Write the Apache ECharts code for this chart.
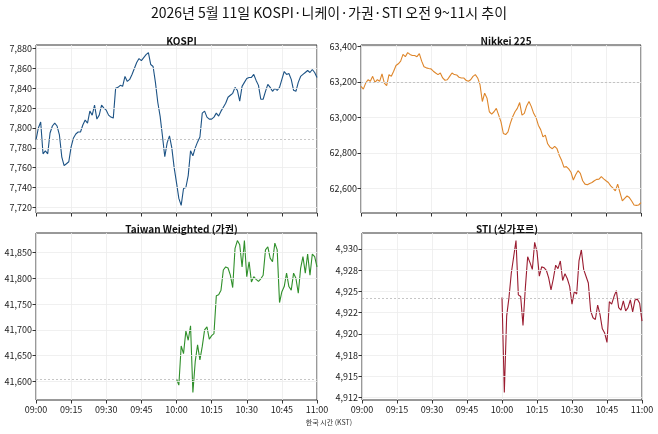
<!DOCTYPE html>
<html>
<head>
<meta charset="utf-8">
<script src="https://cdn.jsdelivr.net/npm/echarts@6/dist/echarts.min.js"></script>
<style>
  html, body { margin: 0; padding: 0; background: #fff; }
  #chart { width: 658px; height: 434px; }
</style>
</head>
<body>
<div id="chart"></div>
<script>
// minutes after 09:00 KST, one point a minute
var timeLabels = ['09:00', '09:15', '09:30', '09:45', '10:00', '10:15', '10:30', '10:45', '11:00'];

var kospi = [7788, 7800, 7806, 7774, 7777, 7774, 7795, 7802, 7805, 7802,
    7793, 7771, 7762, 7764, 7766, 7781, 7790, 7794, 7796, 7796,
    7803, 7808, 7805, 7817, 7813, 7823, 7809, 7813, 7823, 7820,
    7818, 7813, 7811, 7810, 7840, 7841, 7843, 7842, 7852, 7847,
    7849, 7854, 7860, 7866, 7870, 7868, 7871, 7874, 7876, 7864,
    7862, 7846, 7826, 7812, 7792, 7771, 7785, 7792, 7780, 7760,
    7745, 7729, 7722, 7739, 7740, 7752, 7777, 7772, 7780, 7786,
    7791, 7815, 7817, 7811, 7809, 7809, 7811, 7815, 7812, 7817,
    7821, 7825, 7831, 7833, 7835, 7841, 7838, 7827, 7842, 7846,
    7850, 7851, 7851, 7854, 7848, 7843, 7829, 7829, 7837, 7844,
    7841, 7837, 7840, 7838, 7841, 7849, 7857, 7854, 7855, 7849,
    7838, 7837, 7846, 7852, 7854, 7856, 7858, 7856, 7859, 7856,
    7851];
var kospiRef = 7789;
var kospiTicks = [7720, 7740, 7760, 7780, 7800, 7820, 7840, 7860, 7880];
var kospiLabels = ['7,720', '7,740', '7,760', '7,780', '7,800', '7,820', '7,840', '7,860', '7,880'];

var nikkei = [63175, 63160, 63194, 63213, 63204, 63232, 63198, 63213, 63204, 63246,
    63194, 63179, 63242, 63232, 63261, 63293, 63303, 63318, 63356, 63343,
    63366, 63356, 63350, 63350, 63343, 63360, 63318, 63286, 63280, 63276,
    63274, 63261, 63251, 63242, 63251, 63223, 63210, 63213, 63232, 63251,
    63242, 63240, 63227, 63223, 63223, 63210, 63204, 63213, 63232, 63242,
    63223, 63185, 63090, 63137, 63109, 63032, 63019, 63032, 63051, 63013,
    62975, 62909, 62903, 62918, 62966, 63004, 63032, 63051, 63084, 63013,
    63023, 63065, 63090, 63061, 63023, 63000, 62956, 62931, 62890, 62900,
    62851, 62832, 62823, 62836, 62823, 62785, 62756, 62718, 62722, 62709,
    62690, 62646, 62676, 62699, 62684, 62642, 62623, 62619, 62627, 62632,
    62642, 62650, 62651, 62665, 62653, 62642, 62632, 62613, 62600, 62585,
    62623, 62575, 62528, 62543, 62556, 62547, 62528, 62505, 62503, 62505,
    62518];
var nikkeiRef = 63200;
var nikkeiTicks = [62600, 62800, 63000, 63200, 63400];
var nikkeiLabels = ['62,600', '62,800', '63,000', '63,200', '63,400'];

// Taiwan and STI open at 10:00 KST
var taiwan = [41605, 41593, 41669, 41654, 41698, 41680, 41708, 41579, 41639, 41671,
    41642, 41668, 41700, 41706, 41682, 41689, 41693, 41766, 41768, 41777,
    41816, 41822, 41820, 41806, 41782, 41858, 41873, 41865, 41822, 41873,
    41803, 41832, 41793, 41803, 41798, 41794, 41799, 41806, 41855, 41861,
    41839, 41832, 41868, 41855, 41753, 41774, 41784, 41810, 41784, 41777,
    41810, 41800, 41771, 41819, 41842, 41810, 41847, 41806, 41847, 41842,
    41822];
var taiwanRef = 41605;
var taiwanTicks = [41600, 41650, 41700, 41750, 41800, 41850];
var taiwanLabels = ['41,600', '41,650', '41,700', '41,750', '41,800', '41,850'];

var sti = [4924.3, 4913.1, 4922.1, 4924.3, 4927.2, 4929.1, 4931.0, 4924.6, 4924.4, 4921.0,
    4925.4, 4929.1, 4928.4, 4927.6, 4930.8, 4929.7, 4926.8, 4927.9, 4927.8, 4927.5,
    4926.6, 4925.2, 4926.5, 4928.1, 4927.7, 4928.6, 4926.3, 4927.1, 4926.5, 4925.6,
    4923.5, 4925.0, 4924.7, 4928.6, 4929.9, 4927.6, 4926.8, 4926.0, 4922.7, 4921.9,
    4921.7, 4923.4, 4922.3, 4920.6, 4920.1, 4919.0, 4923.8, 4923.5, 4924.4, 4925.1,
    4923.1, 4922.8, 4923.9, 4922.7, 4923.1, 4924.0, 4922.6, 4924.0, 4924.1, 4923.6,
    4921.5];
var stiRef = 4924.2;
var stiTicks = [4912.5, 4915, 4917.5, 4920, 4922.5, 4925, 4927.5, 4930];
var stiLabels = ['4,912', '4,915', '4,918', '4,920', '4,922', '4,925', '4,928', '4,930'];

var panels = [
    {name: 'KOSPI', data: kospi, start: 0, ref: kospiRef, ticks: kospiTicks, labels: kospiLabels, color: '#1d5385'},
    {name: 'Nikkei 225', data: nikkei, start: 0, ref: nikkeiRef, ticks: nikkeiTicks, labels: nikkeiLabels, color: '#de862b'},
    {name: 'Taiwan Weighted (가권)', data: taiwan, start: 60, ref: taiwanRef, ticks: taiwanTicks, labels: taiwanLabels, color: '#2f8f2a'},
    {name: 'STI (싱가포르)', data: sti, start: 60, ref: stiRef, ticks: stiTicks, labels: stiLabels, color: '#9a1c30'}
];

var boxes = [
    {left: 36, top: 45, width: 281, height: 168},
    {left: 361, top: 45, width: 280, height: 168},
    {left: 36, top: 233, width: 281, height: 167},
    {left: 362, top: 233, width: 280, height: 167}
];

var font = '"Noto Sans CJK KR", "Noto Sans", sans-serif';

var grids = [], xAxes = [], yAxes = [], series = [], titles = [];

titles.push({
    text: '2026년 5월 11일 KOSPI·니케이·가권·STI 오전 9~11시 추이',
    left: 'center', top: 1,
    textStyle: {fontFamily: font, fontSize: 14, fontWeight: 'normal', color: '#111'}
});

panels.forEach(function (p, i) {
    var b = boxes[i];
    var lo = Math.min.apply(null, p.data), hi = Math.max.apply(null, p.data);
    var pad = (hi - lo) * 0.05;

    grids.push({left: b.left, top: b.top, width: b.width, height: b.height,
        show: true, borderColor: '#333', borderWidth: 1, backgroundColor: 'transparent'});

    titles.push({
        text: p.name,
        left: b.left + b.width / 2, top: b.top - 14, textAlign: 'center',
        textStyle: {fontFamily: font, fontSize: 10, fontWeight: 'bold', color: '#111'}
    });

    xAxes.push({
        type: 'value', gridIndex: i, min: 0, max: 120, interval: 15,
        axisLine: {show: false},
        axisTick: {show: true, length: 3.5, lineStyle: {color: '#333'}},
        axisLabel: {
            show: i >= 2, fontFamily: font, fontSize: 9, color: '#222', margin: 5,
            formatter: function (v) { return timeLabels[Math.round(v / 15)]; }
        },
        splitLine: {show: true, lineStyle: {color: '#ececec', width: 0.8}}
    });

    yAxes.push({
        type: 'value', gridIndex: i, min: lo - pad, max: hi + pad,
        axisLine: {show: false},
        axisTick: {show: true, length: 3.5, customValues: p.ticks, lineStyle: {color: '#333'}},
        axisLabel: {
            fontFamily: font, fontSize: 9, color: '#222', margin: 4,
            customValues: p.ticks,
            formatter: function (v) {
                var k = p.ticks.indexOf(v);
                return k >= 0 ? p.labels[k] : '';
            }
        },
        splitLine: {show: false}
    });

    // horizontal grid lines sit behind the data
    series.push({
        type: 'line', xAxisIndex: i, yAxisIndex: i, data: [], z: 1,
        markLine: {
            silent: true, symbol: 'none', label: {show: false},
            lineStyle: {color: '#ececec', width: 0.8, type: 'solid'},
            data: p.ticks.map(function (t) { return {yAxis: t}; })
        }
    });

    series.push({
        name: p.name, type: 'line', xAxisIndex: i, yAxisIndex: i, z: 3,
        showSymbol: false, smooth: false,
        lineStyle: {color: p.color, width: 1.1},
        data: p.data.map(function (v, k) { return [p.start + k, v]; }),
        markLine: {
            silent: true, symbol: 'none', label: {show: false},
            lineStyle: {color: '#b8b8b8', width: 0.8, type: [2, 2]},
            data: [{yAxis: p.ref}]
        }
    });
});

titles.push({
    text: '한국 시간 (KST)', left: 'center', top: 414,
    textStyle: {fontFamily: font, fontSize: 7, fontWeight: 'normal', color: '#333'}
});

var chart = echarts.init(document.getElementById('chart'));
chart.setOption({
    animation: false,
    backgroundColor: '#fff',
    title: titles,
    grid: grids,
    xAxis: xAxes,
    yAxis: yAxes,
    series: series
});
</script>
</body>
</html>
